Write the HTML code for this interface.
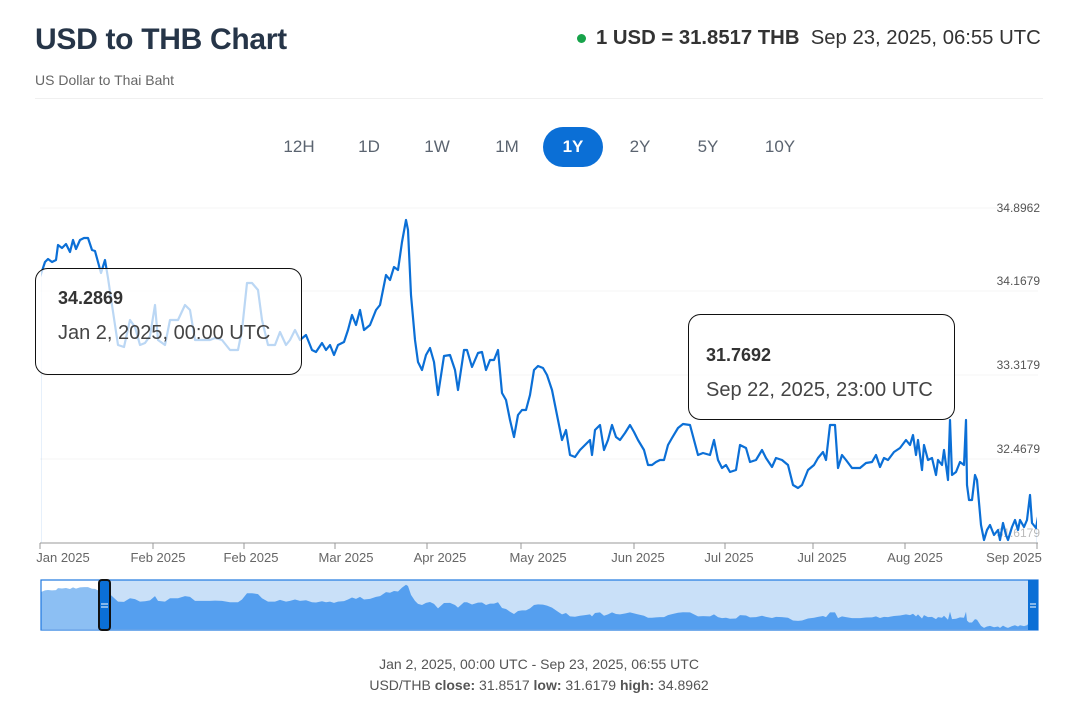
<!DOCTYPE html>
<html><head><meta charset="utf-8"><style>
body{margin:0;width:1078px;height:701px;background:#fff;font-family:"Liberation Sans",sans-serif;overflow:hidden;position:relative}
.a{position:absolute;white-space:nowrap}
.btn{position:absolute;top:127px;height:40px;line-height:40px;font-size:17px;color:#5b6470;text-align:center;width:60px}
</style></head><body>
<div class="a" style="left:35px;top:23px;font-size:30px;font-weight:bold;color:#263548;letter-spacing:-0.3px">USD to THB Chart</div>
<div class="a" style="left:35px;top:72px;font-size:14px;color:#666">US Dollar to Thai Baht</div>
<div class="a" style="left:577px;top:34px;width:9px;height:9px;border-radius:50%;background:#17a34a"></div>
<div class="a" style="left:596px;top:27px;font-size:20.3px;color:#333"><b>1 USD = 31.8517 THB</b>&nbsp; Sep 23, 2025, 06:55 UTC</div>
<div class="a" style="left:35px;top:98px;width:1008px;height:1px;background:#f0f0f0"></div>
<div class="btn" style="left:269px">12H</div>
<div class="btn" style="left:339px">1D</div>
<div class="btn" style="left:407px">1W</div>
<div class="btn" style="left:477px">1M</div>
<div class="btn" style="left:543px;background:#0b6fd6;color:#fff;border-radius:20px;font-weight:bold">1Y</div>
<div class="btn" style="left:610px">2Y</div>
<div class="btn" style="left:678px">5Y</div>
<div class="btn" style="left:750px">10Y</div>
<svg class="a" style="left:0;top:0" width="1078" height="701">
<defs>
<polygon id="p" points="40,277 45,262 48,259 52,262 56,260 58,245 62,248 66,244 70,252 73,240 76,249 80,240 84,238 88,238 92,250 95,251 98,262 101,273 105,260 108,278 112,305 118,345 124,347 130,320 135,327 140,345 145,343 150,336 155,305 158,340 165,345 170,320 178,320 185,305 190,310 195,340 200,340 205,340 210,340 215,338 222,340 230,350 238,350 242,330 247,283 252,283 258,290 262,320 268,345 275,345 280,332 286,345 290,340 295,330 300,340 306,335 312,350 316,352 322,343 326,350 330,345 334,355 338,345 344,342 348,330 352,315 356,325 360,310 364,330 370,325 376,310 380,305 386,275 390,280 394,267 398,270 402,242 406,220 408,230 411,295 415,340 418,362 422,370 426,355 430,348 434,362 438,395 444,356 450,355 455,370 458,390 464,350 467,350 472,367 478,353 482,352 486,370 490,360 494,360 498,350 502,393 506,400 510,420 514,437 518,415 522,410 526,410 530,395 534,370 538,366 543,368 547,375 552,390 558,420 562,440 566,430 570,455 575,457 580,450 585,445 590,440 592,455 595,430 600,425 604,450 608,440 612,425 616,437 620,440 625,433 630,425 634,432 638,440 644,450 648,465 652,465 656,462 660,460 664,460 668,445 672,438 678,428 683,424 690,425 694,440 698,455 703,453 710,455 714,440 718,460 722,468 726,465 730,472 736,470 740,445 746,448 750,462 756,460 762,450 766,458 772,467 776,458 782,460 788,465 793,485 798,488 802,485 808,470 814,465 818,458 823,452 826,460 830,425 835,425 838,468 842,455 846,460 852,468 860,468 866,463 872,462 876,455 880,467 884,458 888,460 894,452 900,448 906,440 910,445 913,435 916,455 918,440 922,470 924,445 928,460 932,458 936,475 938,460 942,465 944,450 948,480 950,420 952,475 956,472 960,462 964,465 966,420 967,485 969,500 972,500 975,475 977,480 981,525 984,540 987,530 990,525 994,535 998,530 1000,540 1003,523 1006,535 1008,540 1012,527 1015,520 1018,530 1020,520 1024,527 1027,520 1030,495 1032,523 1036,528 1038,517 1038,548 40,548"/>
<clipPath id="c"><rect x="41" y="200" width="996" height="343"/></clipPath>
<clipPath id="nl"><rect x="41" y="580" width="60" height="50"/></clipPath>
<clipPath id="nr"><rect x="101" y="580" width="937" height="50"/></clipPath>
</defs>
<g stroke="#f4f4f4" stroke-width="1">
<line x1="40" y1="208" x2="1038" y2="208"/><line x1="40" y1="291" x2="1038" y2="291"/><line x1="40" y1="375" x2="1038" y2="375"/><line x1="40" y1="459" x2="1038" y2="459"/>
</g>
<g font-size="12" fill="#555" text-anchor="end">
<text x="1040" y="212">34.8962</text><text x="1040" y="285">34.1679</text><text x="1040" y="369">33.3179</text><text x="1040" y="453">32.4679</text><text x="1040" y="537" fill="#bbb">31.6179</text>
</g>
<use href="#p" clip-path="url(#c)" fill="none" stroke="#0b6fd6" stroke-width="2.2" stroke-linejoin="round"/>
<line x1="40" y1="543" x2="1038" y2="543" stroke="#999"/>
<g stroke="#999"><line x1="40" y1="543" x2="40" y2="549"/><line x1="153" y1="543" x2="153" y2="549"/><line x1="244" y1="543" x2="244" y2="549"/><line x1="335" y1="543" x2="335" y2="549"/><line x1="427" y1="543" x2="427" y2="549"/><line x1="521" y1="543" x2="521" y2="549"/><line x1="634" y1="543" x2="634" y2="549"/><line x1="725" y1="543" x2="725" y2="549"/><line x1="813" y1="543" x2="813" y2="549"/><line x1="905" y1="543" x2="905" y2="549"/><line x1="1037" y1="543" x2="1037" y2="549"/></g>
<g font-size="13" fill="#666" text-anchor="middle">
<text x="63" y="562">Jan 2025</text><text x="158" y="562">Feb 2025</text><text x="251" y="562">Feb 2025</text><text x="346" y="562">Mar 2025</text><text x="440" y="562">Apr 2025</text><text x="538" y="562">May 2025</text><text x="638" y="562">Jun 2025</text><text x="729" y="562">Jul 2025</text><text x="822" y="562">Jul 2025</text><text x="915" y="562">Aug 2025</text><text x="1014" y="562">Sep 2025</text>
</g>
<rect x="41" y="580" width="997" height="50" fill="#c9e0f8"/>
<rect x="41" y="580" width="60" height="50" fill="#fff"/>
<g clip-path="url(#nr)"><use href="#p" transform="matrix(1,0,0,0.135,0,555)" fill="#559fef"/></g>
<g clip-path="url(#nl)"><use href="#p" transform="matrix(1,0,0,0.135,0,555)" fill="#8cbff3"/></g>
<rect x="41" y="580" width="997" height="50" fill="none" stroke="#1f78e0" stroke-width="1.2"/>
<rect x="99" y="580" width="11" height="50" rx="3" fill="#0b6fd6" stroke="#111" stroke-width="2"/>
<line x1="101" y1="604" x2="108" y2="604" stroke="#fff"/><line x1="101" y1="607" x2="108" y2="607" stroke="#fff"/>
<rect x="1028" y="580" width="10" height="50" fill="#0b6fd6"/>
<line x1="1030" y1="604" x2="1036" y2="604" stroke="#fff"/><line x1="1030" y1="607" x2="1036" y2="607" stroke="#fff"/>
<rect x="35.5" y="268.5" width="266" height="106" rx="12" fill="rgba(255,255,255,0.72)" stroke="#111"/>
<text x="58" y="304" font-size="18" font-weight="bold" fill="#333">34.2869</text>
<text x="58" y="339" font-size="20" fill="#444">Jan 2, 2025, 00:00 UTC</text>
<rect x="688.5" y="314.5" width="266" height="105" rx="12" fill="rgba(255,255,255,0.85)" stroke="#111"/>
<text x="706" y="361" font-size="18" font-weight="bold" fill="#333">31.7692</text>
<text x="706" y="396" font-size="20" fill="#444">Sep 22, 2025, 23:00 UTC</text>
<g font-size="14" fill="#555" text-anchor="middle">
<text x="539" y="669">Jan 2, 2025, 00:00 UTC - Sep 23, 2025, 06:55 UTC</text>
<text x="539" y="690">USD/THB <tspan font-weight="bold">close:</tspan> 31.8517 <tspan font-weight="bold">low:</tspan> 31.6179 <tspan font-weight="bold">high:</tspan> 34.8962</text>
</g>
</svg>
</body></html>
